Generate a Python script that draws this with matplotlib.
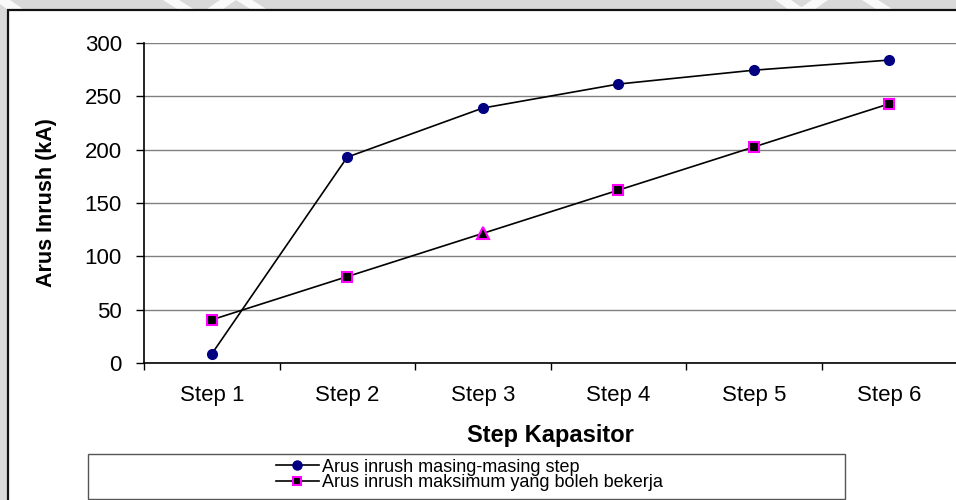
import matplotlib.pyplot as plt
from matplotlib.lines import Line2D
from matplotlib.patches import Rectangle, Polygon

plt.rcParams['font.family'] = ['Liberation Sans', 'DejaVu Sans']

# data
steps = ['Step 1', 'Step 2', 'Step 3', 'Step 4', 'Step 5', 'Step 6']
arus_masing = [8.5, 193, 239, 261.5, 274.5, 284]
arus_maks = [40.5, 81, 121.5, 162, 202.5, 243]
label_masing = 'Arus inrush masing-masing step'
label_maks = 'Arus inrush maksimum yang boleh bekerja'
yticks = [0, 50, 100, 150, 200, 250, 300]

W, H = 956, 500
fig = plt.figure(figsize=(W / 100, H / 100), dpi=100, facecolor='#d9d9d9')

def px(x, y):
    # pixel coords (origin top-left) -> figure fraction
    return (x / W, 1 - y / H)

# light diagonal stripes in the grey margin
stripes = [(-6, 14), (163, 185), (220, 200), (236, 258), (775, 795), (812, 792), (862, 884)]
for x0, x1 in stripes:
    pts = [px(x0, 0), px(x0 + 16, 0), px(x1 + 16, 14), px(x1, 14)]
    fig.patches.append(Polygon(pts, closed=True, transform=fig.transFigure,
                               facecolor='white', edgecolor='none', alpha=0.85, zorder=-2))

# white chart frame
fx, fy = px(8, 10)
fig.patches.append(Rectangle((fx, -0.1), 1.2, fy + 0.1, transform=fig.transFigure,
                             facecolor='white', edgecolor='#111111', lw=1.6, zorder=-1))

ax = fig.add_axes([144 / W, 1 - 363 / H, (957 - 144) / W, 320 / H])
ax.set_zorder(3)
ax.set_facecolor('white')

x = list(range(1, len(steps) + 1))
ax.plot(x, arus_masing, color='black', lw=1.2, marker='o', ms=7,
        mfc='#000080', mec='#000080', zorder=4)
ax.plot(x, arus_maks, color='black', lw=1.2, zorder=4)
maks_markers = ['s', 's', '^', 's', 's', 's']
for xi, yi, m in zip(x, arus_maks, maks_markers):
    ax.plot([xi], [yi], marker=m, ms=6.5 if m == 's' else 8, mfc='black',
            mec='#ff00ff', mew=1.5, zorder=5)

ax.set_xlim(0.5, len(steps) + 0.5)
ax.set_ylim(0, 300)
ax.set_yticks(yticks)
ax.yaxis.grid(True, color='#808080', lw=1)
ax.set_axisbelow(True)

ax.set_xticks([i + 0.5 for i in range(0, len(steps) + 1)])
ax.set_xticklabels([])
ax.set_xticks(x, minor=True)
ax.set_xticklabels(steps, minor=True)
ax.tick_params(axis='x', which='major', length=5, width=1, direction='out', color='black')
ax.tick_params(axis='x', which='minor', length=0, pad=16, labelsize=16)
ax.tick_params(axis='y', length=6, width=1, direction='out', pad=10, labelsize=16)

for s in ['top', 'right']:
    ax.spines[s].set_visible(False)
for s in ['left', 'bottom']:
    ax.spines[s].set_color('black')
    ax.spines[s].set_linewidth(1.2)

ax.set_xlabel('Step Kapasitor', fontsize=17, fontweight='bold')
ax.set_ylabel('Arus Inrush (kA)', fontsize=15.5, fontweight='bold')
ax.xaxis.set_label_coords(0.5, -0.19)
ax.yaxis.set_label_coords(-0.107, 0.5)

# legend box at the bottom
lx, ly = px(88, 499)
fig.patches.append(Rectangle((lx, ly), (845 - 88) / W, 45 / H, transform=fig.transFigure,
                             facecolor='white', edgecolor='#555555', lw=1, zorder=2))
handles = [
    Line2D([], [], color='black', lw=1.2, marker='o', ms=6.5, mfc='#000080', mec='#000080'),
    Line2D([], [], color='black', lw=1.2, marker='s', ms=6, mfc='black', mec='#ff00ff', mew=1.5),
]
fig.legend(handles, [label_masing, label_maks], loc='center',
           bbox_to_anchor=px(469, 475), frameon=False, fontsize=13,
           handlelength=2.4, handletextpad=0.15, labelspacing=-0.07, borderpad=0)

fig.savefig('out.png', dpi=100, facecolor=fig.get_facecolor())
